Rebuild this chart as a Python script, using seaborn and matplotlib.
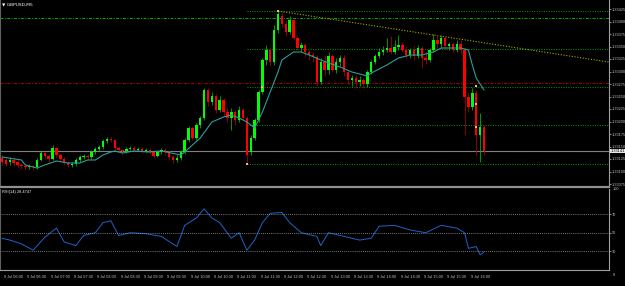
import matplotlib
matplotlib.use("Agg")
import matplotlib.pyplot as plt
import matplotlib.transforms as mtransforms
from matplotlib.ticker import MultipleLocator, FormatStrFormatter
import numpy as np
import pandas as pd
import seaborn as sns

symbol_title = "\u25BC GBPUSD,M5"
rsi_title = "RSI(14) 28.4747"

open_ = [1.33127, 1.33123, 1.33119, 1.33123, 1.33119, 1.33113, 1.33111, 1.33109, 1.33111, 1.33109,
         1.33123, 1.33137, 1.33131, 1.33125, 1.33147, 1.33133, 1.33125, 1.33117, 1.33113, 1.33115,
         1.33123, 1.33129, 1.33131, 1.33129, 1.33139, 1.33145, 1.33149, 1.33161, 1.33165, 1.33163,
         1.33147, 1.33143, 1.33141, 1.33145, 1.33147, 1.33143, 1.33145, 1.33141, 1.33143, 1.33139,
         1.33131, 1.33139, 1.33143, 1.33139, 1.33129, 1.33123, 1.33127, 1.33139, 1.33163, 1.33187,
         1.33167, 1.33193, 1.33207, 1.33263, 1.33239, 1.33251, 1.33223, 1.33243, 1.33219, 1.33207,
         1.33219, 1.33203, 1.33223, 1.33207, 1.33139, 1.33167, 1.33203, 1.33259, 1.33323, 1.33343,
         1.33319, 1.33383, 1.33411, 1.33395, 1.33379, 1.33403, 1.33367, 1.33347, 1.33353, 1.33339,
         1.33333, 1.33329, 1.33279, 1.33319, 1.33303, 1.33331, 1.33303, 1.33319, 1.33327, 1.33299,
         1.33283, 1.33287, 1.33279, 1.33283, 1.33275, 1.33299, 1.33319, 1.33331, 1.33339, 1.33343,
         1.33347, 1.33339, 1.33349, 1.33353, 1.33343, 1.33333, 1.33343, 1.33331, 1.33347, 1.33327,
         1.33323, 1.33343, 1.33363, 1.33355, 1.33367, 1.33351, 1.33355, 1.33343, 1.33355, 1.33343,
         1.33249, 1.33229, 1.33257, 1.33173, 1.33189]
close = [1.33119, 1.33115, 1.33123, 1.33117, 1.33113, 1.33111, 1.33109, 1.33111, 1.33109, 1.33123,
         1.33137, 1.33131, 1.33125, 1.33147, 1.33133, 1.33125, 1.33117, 1.33113, 1.33115, 1.33123,
         1.33129, 1.33131, 1.33129, 1.33139, 1.33145, 1.33149, 1.33161, 1.33165, 1.33163, 1.33147,
         1.33143, 1.33141, 1.33145, 1.33147, 1.33143, 1.33145, 1.33141, 1.33143, 1.33139, 1.33131,
         1.33139, 1.33143, 1.33139, 1.33129, 1.33123, 1.33127, 1.33139, 1.33163, 1.33187, 1.33167,
         1.33193, 1.33207, 1.33263, 1.33239, 1.33251, 1.33223, 1.33243, 1.33219, 1.33207, 1.33219,
         1.33203, 1.33223, 1.33207, 1.33133, 1.33167, 1.33203, 1.33259, 1.33323, 1.33343, 1.33319,
         1.33383, 1.33415, 1.33395, 1.33379, 1.33403, 1.33367, 1.33347, 1.33353, 1.33339, 1.33333,
         1.33329, 1.33279, 1.33319, 1.33303, 1.33331, 1.33303, 1.33319, 1.33327, 1.33299, 1.33283,
         1.33287, 1.33279, 1.33283, 1.33275, 1.33299, 1.33319, 1.33331, 1.33339, 1.33343, 1.33347,
         1.33339, 1.33349, 1.33353, 1.33343, 1.33333, 1.33343, 1.33331, 1.33347, 1.33327, 1.33323,
         1.33343, 1.33363, 1.33355, 1.33367, 1.33351, 1.33355, 1.33343, 1.33355, 1.33343, 1.33249,
         1.33229, 1.33257, 1.33173, 1.33189, 1.33141]
high = [1.33133, 1.33127, 1.33129, 1.33129, 1.33123, 1.33117, 1.33115, 1.33115, 1.33113, 1.33127,
        1.33141, 1.33139, 1.33135, 1.33153, 1.33149, 1.33137, 1.33129, 1.33121, 1.33119, 1.33127,
        1.33133, 1.33135, 1.33135, 1.33143, 1.33149, 1.33153, 1.33165, 1.33169, 1.33169, 1.33165,
        1.33151, 1.33145, 1.33149, 1.33151, 1.33151, 1.33149, 1.33149, 1.33147, 1.33147, 1.33143,
        1.33143, 1.33147, 1.33147, 1.33143, 1.33133, 1.33133, 1.33143, 1.33167, 1.33191, 1.33191,
        1.33197, 1.33211, 1.33267, 1.33267, 1.33259, 1.33255, 1.33251, 1.33247, 1.33227, 1.33227,
        1.33223, 1.33231, 1.33227, 1.33211, 1.33173, 1.33207, 1.33263, 1.33327, 1.33353, 1.33349,
        1.33393, 1.33421, 1.33419, 1.33403, 1.33411, 1.33407, 1.33371, 1.33359, 1.33357, 1.33343,
        1.33339, 1.33333, 1.33327, 1.33333, 1.33339, 1.33335, 1.33327, 1.33333, 1.33333, 1.33303,
        1.33293, 1.33293, 1.33291, 1.33287, 1.33303, 1.33323, 1.33335, 1.33347, 1.33351, 1.33367,
        1.33371, 1.33363, 1.33373, 1.33359, 1.33351, 1.33347, 1.33351, 1.33353, 1.33351, 1.33339,
        1.33347, 1.33375, 1.33375, 1.33373, 1.33371, 1.33359, 1.33359, 1.33363, 1.33363, 1.33347,
        1.33259, 1.33267, 1.33263, 1.33217, 1.33193]
low = [1.33113, 1.33111, 1.33113, 1.33111, 1.33109, 1.33105, 1.33103, 1.33105, 1.33103, 1.33105,
       1.33121, 1.33125, 1.33119, 1.33123, 1.33129, 1.33121, 1.33113, 1.33109, 1.33109, 1.33111,
       1.33119, 1.33125, 1.33125, 1.33125, 1.33135, 1.33141, 1.33145, 1.33157, 1.33159, 1.33143,
       1.33139, 1.33133, 1.33137, 1.33143, 1.33139, 1.33141, 1.33137, 1.33139, 1.33135, 1.33127,
       1.33129, 1.33135, 1.33133, 1.33123, 1.33117, 1.33119, 1.33123, 1.33135, 1.33159, 1.33163,
       1.33163, 1.33187, 1.33203, 1.33231, 1.33233, 1.33217, 1.33219, 1.33211, 1.33199, 1.33183,
       1.33193, 1.33199, 1.33203, 1.33117, 1.33133, 1.33163, 1.33199, 1.33255, 1.33313, 1.33311,
       1.33313, 1.33377, 1.33389, 1.33371, 1.33375, 1.33363, 1.33343, 1.33339, 1.33331, 1.33323,
       1.33319, 1.33271, 1.33275, 1.33293, 1.33295, 1.33299, 1.33297, 1.33311, 1.33291, 1.33275,
       1.33271, 1.33267, 1.33271, 1.33267, 1.33269, 1.33295, 1.33315, 1.33327, 1.33333, 1.33339,
       1.33335, 1.33335, 1.33343, 1.33339, 1.33327, 1.33327, 1.33323, 1.33327, 1.33307, 1.33315,
       1.33319, 1.33339, 1.33347, 1.33347, 1.33343, 1.33343, 1.33339, 1.33339, 1.33335, 1.33173,
       1.33219, 1.33223, 1.33133, 1.33119, 1.33133]

ma_idx = [0, 5, 6, 9, 11, 14, 17, 20, 22, 24, 26, 28, 29, 31, 34, 38, 41, 46, 47, 51,
          54, 57, 59, 61, 63, 65, 67, 69, 71, 72, 75, 77, 79, 82, 84, 87, 90, 94, 95, 99,
          102, 105, 108, 111, 113, 118, 120, 121, 122, 124]
ma_val = [1.33129, 1.33123, 1.33113, 1.33107, 1.33113, 1.33121, 1.33117, 1.33117, 1.33123, 1.33123,
          1.33133, 1.33139, 1.33141, 1.33137, 1.33141, 1.33139, 1.33141, 1.33133, 1.33139, 1.33167,
          1.33199, 1.33209, 1.33213, 1.33207, 1.33199, 1.33187, 1.33219, 1.33259, 1.33299, 1.33323,
          1.33339, 1.33339, 1.33333, 1.33323, 1.33317, 1.33309, 1.33299, 1.33291, 1.33297, 1.33313,
          1.33327, 1.33333, 1.33333, 1.33339, 1.33347, 1.33347, 1.33343, 1.33313, 1.33287, 1.33263]

rsi_idx = [0, 2, 5, 8, 11, 14, 16, 19, 21, 24, 26, 28, 30, 33, 37, 41, 45, 47, 50, 52,
           54, 56, 59, 61, 63, 65, 67, 69, 72, 74, 77, 81, 82, 84, 88, 92, 95, 97, 101, 105,
           109, 113, 117, 119, 120, 122, 123, 124]
rsi_val = [44, 42, 38, 31, 45, 55, 40, 36, 47, 50, 61, 63, 47, 50, 49, 46, 35, 58, 66, 76,
           66, 61, 44, 50, 31, 42, 61, 71, 72, 61, 50, 46, 36, 50, 46, 42, 44, 57, 58, 53,
           50, 58, 55, 50, 33, 35, 26, 29]
rsi_levels = [70, 50, 30]

time_idx = [0, 6, 12, 18, 24, 30, 36, 42, 48, 54, 60, 66, 72, 78, 84, 90, 96, 102, 108, 114, 120]
time_labels = ["9 Jul 06:00", "9 Jul 06:30", "9 Jul 07:00", "9 Jul 07:30", "9 Jul 08:00",
               "9 Jul 08:30", "9 Jul 09:00", "9 Jul 09:30", "9 Jul 10:00", "9 Jul 10:30",
               "9 Jul 11:00", "9 Jul 11:30", "9 Jul 12:00", "9 Jul 12:30", "9 Jul 13:00",
               "9 Jul 13:30", "9 Jul 14:00", "9 Jul 14:30", "9 Jul 15:00", "9 Jul 15:30",
               "9 Jul 16:00"]

# horizontal levels
green_levels = [1.33421, 1.33345, 1.33269, 1.33193, 1.33115]
green_level_start = 63
main_level = 1.33407
red_level = 1.33277
trend_idx = [71, 156]
trend_val = [1.33421, 1.33319]
marker_idx = [63, 71, 67, 122, 122, 122]
marker_val = [1.33115, 1.33421, 1.33269, 1.33271, 1.33235, 1.33189]

# ---------------------------------------------------------------
sns.set_style("dark")
plt.rcParams['font.family'] = ['Liberation Sans', 'DejaVu Sans']

W, H = 625, 286
FS = 2.75
fig = plt.figure(figsize=(W / 100, H / 100), dpi=100, facecolor='black')
ax = fig.add_axes([0, 1 - 187 / H, 609 / W, 187 / H])
ax2 = fig.add_axes([0, 1 - 270 / H, 609 / W, 81 / H])
for a in (ax, ax2):
    a.set_facecolor('black')
    a.grid(False)

n = len(close)
idx = np.arange(n)
df = pd.DataFrame({'i': idx, 'o': open_, 'h': high, 'l': low, 'c': close})
up = df['c'] >= df['o']

ax.vlines(df.loc[up, 'i'], df.loc[up, 'l'], df.loc[up, 'h'], color='#00b000', lw=0.6, zorder=2)
ax.vlines(df.loc[~up, 'i'], df.loc[~up, 'l'], df.loc[~up, 'h'], color='#a00000', lw=0.6, zorder=2)
body_lo = np.minimum(df['o'], df['c'])
body_h = np.maximum(np.abs(df['c'] - df['o']), 0.000012)
ax.bar(df.loc[up, 'i'], body_h[up], bottom=body_lo[up], width=0.62, color='#00ff00', lw=0, zorder=3)
ax.bar(df.loc[~up, 'i'], body_h[~up], bottom=body_lo[~up], width=0.62, color='#ff0000', lw=0, zorder=3)

sns.lineplot(x=ma_idx, y=ma_val, ax=ax, color='#2a9d9d', lw=0.8, zorder=4)

xl = (-2 / 3.887, (609 - 2) / 3.887)
ax.axhline(main_level, color='#00b000', lw=0.7, ls=(0, (3, 1.5, 1, 1.5)), zorder=1)
ax.axhline(red_level, color='#b00000', lw=0.7, ls=(0, (3, 1.5, 1, 1.5)), zorder=1)
for lv in green_levels:
    ax.hlines(lv, green_level_start, xl[1], color='#00a000', lw=0.7, ls=(0, (1, 1.5)), zorder=1)
ax.axhline(close[-1], color='#808080', lw=0.8, zorder=1)
sns.lineplot(x=trend_idx, y=trend_val, ax=ax, color='#a8a800', lw=0.8, ls=(0, (1, 1.5)), zorder=1)
ax.scatter(marker_idx, marker_val, marker='s', s=2.5, color='#f5b48c', lw=0, zorder=5)

ax.set_xlim(*xl)
ax.set_ylim(1.33443 - 187 * 0.00002, 1.33443)
ax.yaxis.tick_right()
ax.yaxis.set_major_locator(MultipleLocator(0.00025))
ax.yaxis.set_major_formatter(FormatStrFormatter('%.5f'))
ax.tick_params(axis='y', colors='#c0c0c0', labelsize=FS, length=1.5, width=0.5, pad=0.6)
ax.tick_params(axis='x', bottom=False, labelbottom=False)
ax.set_xlabel('')
ax.set_ylabel('')
ax.spines['top'].set_visible(False)
ax.spines['right'].set_color('#a0a0a0')
ax.spines['right'].set_linewidth(0.8)
ax.spines['left'].set_color('#606060')
ax.spines['left'].set_linewidth(0.8)
ax.spines['bottom'].set_color('#909090')
ax.spines['bottom'].set_linewidth(1.6)

ax.text(0.004, 0.985, symbol_title, transform=ax.transAxes, color='white', fontsize=3.2,
        va='top', ha='left', family=['DejaVu Sans'])
ax.text(1.002, close[-1], f"{close[-1]:.5f}", transform=ax.get_yaxis_transform(),
        color='black', fontsize=FS, va='center', ha='left',
        bbox=dict(boxstyle='square,pad=0.12', fc='#e8e8e8', ec='none'), zorder=10, clip_on=False)

# RSI panel
sns.lineplot(x=rsi_idx, y=rsi_val, ax=ax2, color='#1e64c8', lw=0.7)
for lv in rsi_levels:
    ax2.axhline(lv, color='#a0a0a0', lw=0.6, ls=(0, (1, 1.5)))
ax2.set_xlim(*xl)
ax2.set_ylim(9.5, 97.5)
ax2.yaxis.tick_right()
ax2.set_yticks(rsi_levels)
ax2.set_yticklabels([str(v) for v in rsi_levels])
ax2.tick_params(axis='y', colors='#c0c0c0', labelsize=FS, length=1.5, width=0.5, pad=0.6)
ax2.set_xticks(time_idx)
ax2.set_xticklabels(time_labels)
ax2.tick_params(axis='x', colors='#c0c0c0', labelsize=FS, length=2.5, width=0.5, pad=1, direction='out')
offset = mtransforms.ScaledTranslation(1.5 / 72, 0, fig.dpi_scale_trans)
for lab in ax2.get_xticklabels():
    lab.set_horizontalalignment('left')
    lab.set_transform(lab.get_transform() + offset)
ax2.set_xlabel('')
ax2.set_ylabel('')
ax2.spines['top'].set_visible(False)
ax2.spines['right'].set_color('#a0a0a0')
ax2.spines['right'].set_linewidth(0.8)
ax2.spines['left'].set_color('#606060')
ax2.spines['left'].set_linewidth(0.8)
ax2.spines['bottom'].set_color('#a0a0a0')
ax2.spines['bottom'].set_linewidth(0.8)
ax2.text(0.004, 0.99, rsi_title, transform=ax2.transAxes, color='white', fontsize=FS,
         va='top', ha='left')
ax2.text(1.006, 1.0, "100", transform=ax2.transAxes, color='#c0c0c0', fontsize=FS, va='center', ha='left')
ax2.text(1.006, -0.06, "0", transform=ax2.transAxes, color='#c0c0c0', fontsize=FS, va='center', ha='left')

fig.savefig('out.png', dpi=100, facecolor='black')
